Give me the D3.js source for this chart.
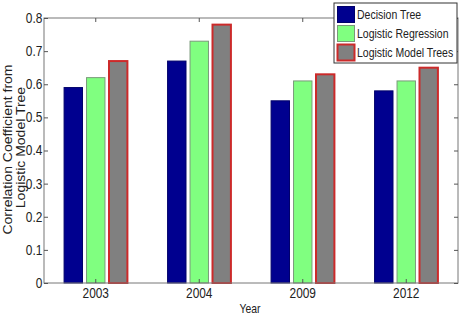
<!DOCTYPE html>
<meta charset="utf-8">
<script src="https://cdn.jsdelivr.net/npm/d3@7"></script>
<style>
body { margin: 0; background: #fff; }
text { font-family: "Liberation Sans", Arial, sans-serif; fill: #222; }
</style>
<body>
<script>

var years = ["2003", "2004", "2009", "2012"];
var seriesNames = ["Decision Tree", "Logistic Regression", "Logistic Model Trees"];
var decisionTree = [0.59, 0.67, 0.55, 0.58];
var logisticRegression = [0.62, 0.73, 0.61, 0.61];
var logisticModelTrees = [0.67, 0.78, 0.63, 0.65];
var yTicks = [0, 0.1, 0.2, 0.3, 0.4, 0.5, 0.6, 0.7, 0.8];

var series = [decisionTree, logisticRegression, logisticModelTrees];
var fills = ["#00008f", "#80ff80", "#808080"];
var strokes = ["#00006a", "#7a9a7a", "#cc2a2a"];
var strokeW = [1, 1, 2];

var width = 463, height = 318;
var margin = {left: 44, right: 5, top: 18, bottom: 35};
var pw = width - margin.left - margin.right,
    ph = height - margin.top - margin.bottom;

var svg = d3.select("body").append("svg")
    .attr("width", width)
    .attr("height", height);

var g = svg.append("g")
    .attr("transform", "translate(" + margin.left + "," + margin.top + ")");

var x = d3.scaleBand().domain(years).range([0, pw]).padding(0);
var y = d3.scaleLinear().domain([0, 0.8]).range([ph, 0]);

var step = x.bandwidth() * 0.217;
var barW = step * 0.82;

// bars
series.forEach(function(vals, si) {
  g.append("g").selectAll("rect")
    .data(vals)
    .enter()
    .append("rect")
    .attr("x", function(d, i) { return x(years[i]) + x.bandwidth() / 2 + (si - 1) * step - barW / 2; })
    .attr("y", function(d) { return y(d); })
    .attr("width", barW)
    .attr("height", function(d) { return ph - y(d); })
    .style("fill", fills[si])
    .style("stroke", strokes[si])
    .style("stroke-width", strokeW[si]);
});

// box
g.append("rect")
  .attr("width", pw).attr("height", ph)
  .style("fill", "none").style("stroke", "#777").style("stroke-width", 1);

// y axis
var yAxis = d3.axisLeft(y).tickValues(yTicks).tickSize(-4).tickPadding(2)
    .tickFormat(function(d) { return d === 0 ? "0" : d3.format(".1f")(d); });
g.append("g").call(yAxis)
  .call(function(s) { s.select(".domain").remove(); s.selectAll("line").style("stroke", "#555"); })
  .selectAll("text").style("font-size", "14px").attr("transform", "scale(0.85,1)");

g.append("g").attr("transform", "translate(" + pw + ",0)")
  .call(d3.axisRight(y).tickValues(yTicks).tickSize(-4).tickFormat(""))
  .call(function(s) { s.select(".domain").remove(); s.selectAll("line").style("stroke", "#555"); });

// x axis
g.append("g").attr("transform", "translate(0," + ph + ")")
  .call(d3.axisBottom(x).tickSize(-4).tickPadding(5))
  .call(function(s) { s.select(".domain").remove(); s.selectAll("line").style("stroke", "#555"); })
  .selectAll("text").style("font-size", "14px").attr("transform", "scale(0.85,1)");

g.append("g")
  .call(d3.axisTop(x).tickSize(-4).tickFormat(""))
  .call(function(s) { s.select(".domain").remove(); s.selectAll("line").style("stroke", "#555"); });

// labels
svg.append("text")
  .attr("transform", "translate(" + (margin.left + pw / 2 - 1) + "," + (height - 5) + ") scale(0.8,1)")
  .style("text-anchor", "middle").style("font-size", "13px")
  .text("Year");

svg.append("text")
  .attr("transform", "translate(12," + (margin.top + ph / 2 - 1) + ") rotate(-90) scale(1,0.85)")
  .style("text-anchor", "middle").style("font-size", "14px")
  .text("Correlation Coefficient from");
svg.append("text")
  .attr("transform", "translate(24.5," + (margin.top + ph / 2 - 3) + ") rotate(-90) scale(1,0.85)")
  .style("text-anchor", "middle").style("font-size", "14px")
  .text("Logistic Model Tree");

// legend
var lg = svg.append("g").attr("transform", "translate(334,3)");
lg.append("rect").attr("width", 123).attr("height", 60)
  .style("fill", "#fff").style("stroke", "#333").style("stroke-width", 1);
seriesNames.forEach(function(name, i) {
  lg.append("rect")
    .attr("x", 3.5).attr("y", 3.5 + i * 19)
    .attr("width", 17).attr("height", 16)
    .style("fill", fills[i]).style("stroke", strokes[i]).style("stroke-width", strokeW[i]);
  lg.append("text")
    .attr("transform", "translate(23," + (16 + i * 19) + ") scale(0.84,1)")
    .style("font-size", "12.5px")
    .text(name);
});

</script>
</body>
